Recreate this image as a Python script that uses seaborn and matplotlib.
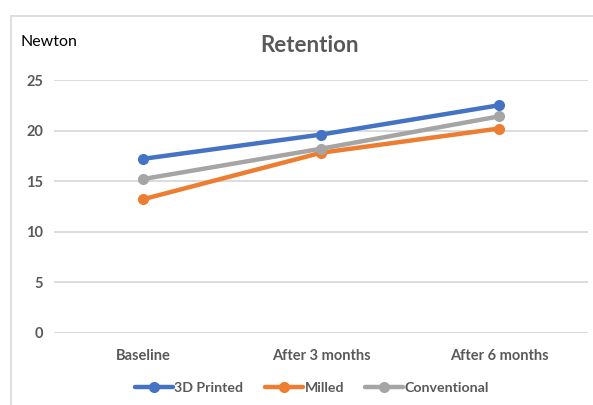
import matplotlib
matplotlib.use("Agg")
import matplotlib.pyplot as plt
from matplotlib.lines import Line2D
import seaborn as sns
import pandas as pd

categories = ["Baseline", "After 3 months", "After 6 months"]
printed_3d = [17.2, 19.6, 22.5]
milled = [13.2, 17.8, 20.2]
conventional = [15.2, 18.2, 21.4]
series_names = ["3D Printed", "Milled", "Conventional"]
colors = ["#4472C4", "#ED7D31", "#A5A5A5"]
yticks = [0, 5, 10, 15, 20, 25]

rows = []
for name, vals in zip(series_names, [printed_3d, milled, conventional]):
    for i, (c, v) in enumerate(zip(categories, vals)):
        rows.append({"series": name, "x": i, "cat": c, "value": v})
df = pd.DataFrame(rows)

sns.set_theme(style="white")
plt.rcParams["font.family"] = ["Lato", "DejaVu Sans"]

fig = plt.figure(figsize=(5.93, 4.05), dpi=100)
ax = fig.add_axes([54/593, 1-332.7/405, (588-54)/593, (332.7-80)/405])

sns.lineplot(data=df, x="x", y="value", hue="series", hue_order=series_names,
             palette=colors, marker="o", markersize=8, markeredgewidth=0,
             linewidth=3.2, ax=ax, legend=False)

ax.set_xlim(-0.5, 2.5)
ax.set_ylim(0, 25)
ax.set_yticks(yticks)
ax.set_xticks(range(len(categories)))
ax.set_xticklabels(categories)
ax.set_xlabel("")
ax.set_ylabel("")
ax.grid(axis="y", color="#D9D9D9", linewidth=1.3)
ax.set_axisbelow(True)
for s in ax.spines.values():
    s.set_visible(False)
ax.tick_params(axis="both", length=0, labelsize=10.5, labelcolor="#595959")
ax.tick_params(axis="y", pad=8)
ax.tick_params(axis="x", pad=12)
for t in ax.get_xticklabels() + ax.get_yticklabels():
    t.set_fontweight("bold")

fig.text(310/593, 1-45/405, "Retention", ha="center", va="center",
         fontsize=16, fontweight="bold", color="#595959")
fig.text(20/593, 1-42/405, "Newton", ha="left", va="center",
         fontsize=11.5, color="black")

handles = [Line2D([0], [0], color=c, linewidth=3.2, marker="o", markersize=8,
                  markeredgewidth=0) for c in colors]
fig.legend(handles, series_names, loc="center", bbox_to_anchor=(312/593, 1-387.5/405),
           ncol=3, frameon=False, handlelength=2.7, handletextpad=0.1,
           columnspacing=1.5, prop={"weight": "bold", "size": 10.2},
           labelcolor="#595959")

# outer chart border
fig.add_artist(Line2D([11/593, 11/593], [0, 1-16/405], color="#D9D9D9",
                      linewidth=1.2, transform=fig.transFigure))
fig.add_artist(Line2D([11/593, 1], [1-16/405, 1-16/405], color="#D9D9D9",
                      linewidth=1.2, transform=fig.transFigure))

fig.savefig("out.png", dpi=100)
